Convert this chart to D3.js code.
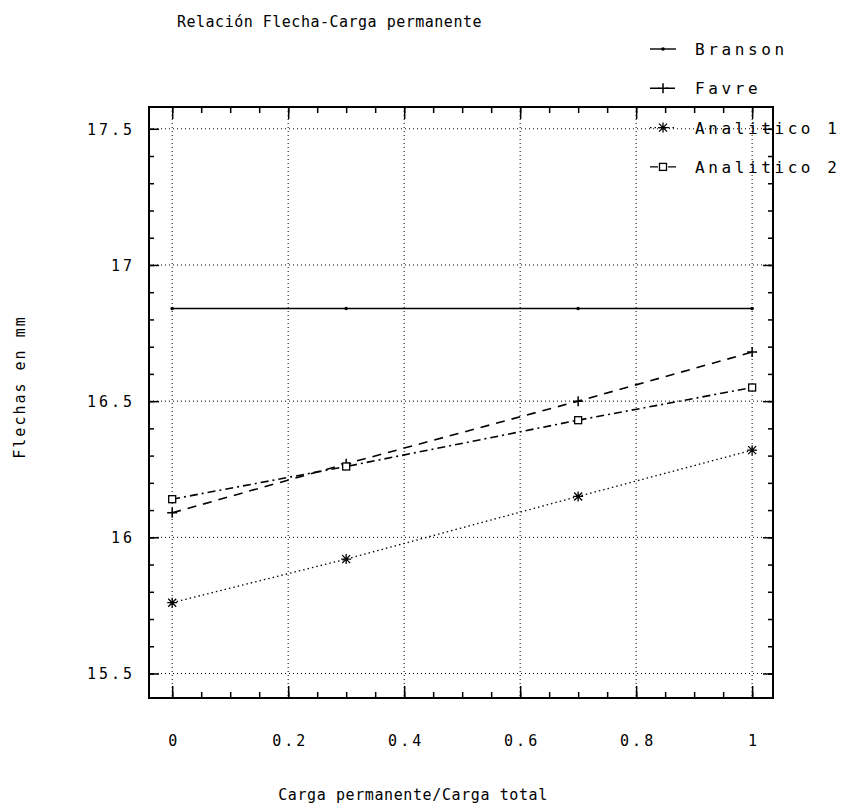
<!DOCTYPE html>
<html>
<head>
<meta charset="utf-8">
<script src="https://cdn.jsdelivr.net/npm/d3@7"></script>
<style>
  body { margin: 0; background: #fff; }
  text { font-family: "DejaVu Sans Mono", monospace; fill: #000; }
</style>
</head>
<body>
<div id="frame"></div>
<script>
// data
let cargaRatio = [0, 0.3, 0.7, 1];
let branson = [16.84, 16.84, 16.84, 16.84];
let favre = [16.09, 16.27, 16.50, 16.68];
let analitico1 = [15.76, 15.92, 16.15, 16.32];
let analitico2 = [16.14, 16.26, 16.43, 16.55];
let seriesNames = ['Branson', 'Favre', 'Analitico 1', 'Analitico 2'];
let xTicks = [0, 0.2, 0.4, 0.6, 0.8, 1];
let xTickLabels = ['0', '0.2', '0.4', '0.6', '0.8', '1'];
let yTicks = [15.5, 16, 16.5, 17, 17.5];
let yTickLabels = ['15.5', '16', '16.5', '17', '17.5'];

let W = 843, H = 808;
let plot = { left: 149, right: 773, top: 107, bottom: 698 };

let x = d3.scaleLinear().domain([-0.04, 1.036]).range([plot.left, plot.right]);
let y = d3.scaleLinear().domain([15.41, 17.58]).range([plot.bottom, plot.top]);

let svg = d3.select('#frame').append('svg')
    .attr('width', W).attr('height', H);

// grid
svg.append('g').selectAll('line').data(xTicks).enter().append('line')
    .attr('x1', d => x(d)).attr('x2', d => x(d))
    .attr('y1', plot.top).attr('y2', plot.bottom)
    .attr('stroke', '#000').attr('stroke-width', 1).attr('stroke-dasharray', '1,3');
svg.append('g').selectAll('line').data(yTicks).enter().append('line')
    .attr('y1', d => y(d)).attr('y2', d => y(d))
    .attr('x1', plot.left).attr('x2', plot.right)
    .attr('stroke', '#000').attr('stroke-width', 1).attr('stroke-dasharray', '1,3');

// minor ticks every 0.05 on x, 0.1 on y
let xMinor = d3.range(0, 1.0001, 0.05);
let yMinor = d3.range(15.5, 17.5001, 0.1);

function axisStyle(g) {
    g.selectAll('.domain').remove();
    g.selectAll('line').attr('stroke', '#000').attr('stroke-width', 1.5);
    g.selectAll('text').remove();
}

svg.append('g').attr('transform', `translate(0,${plot.bottom})`)
    .call(d3.axisBottom(x).tickValues(xMinor).tickSize(-6)).call(axisStyle);
svg.append('g').attr('transform', `translate(0,${plot.bottom})`)
    .call(d3.axisBottom(x).tickValues(xTicks).tickSize(-12)).call(axisStyle);
svg.append('g').attr('transform', `translate(0,${plot.top})`)
    .call(d3.axisTop(x).tickValues(xMinor).tickSize(-6)).call(axisStyle);
svg.append('g').attr('transform', `translate(0,${plot.top})`)
    .call(d3.axisTop(x).tickValues(xTicks).tickSize(-12)).call(axisStyle);
svg.append('g').attr('transform', `translate(${plot.left},0)`)
    .call(d3.axisLeft(y).tickValues(yMinor).tickSize(-5)).call(axisStyle);
svg.append('g').attr('transform', `translate(${plot.left},0)`)
    .call(d3.axisLeft(y).tickValues(yTicks).tickSize(-10)).call(axisStyle);
svg.append('g').attr('transform', `translate(${plot.right},0)`)
    .call(d3.axisRight(y).tickValues(yMinor).tickSize(-5)).call(axisStyle);
svg.append('g').attr('transform', `translate(${plot.right},0)`)
    .call(d3.axisRight(y).tickValues(yTicks).tickSize(-10)).call(axisStyle);

// frame
svg.append('rect')
    .attr('x', plot.left).attr('y', plot.top)
    .attr('width', plot.right - plot.left).attr('height', plot.bottom - plot.top)
    .attr('fill', 'none').attr('stroke', '#000').attr('stroke-width', 2);

// tick labels
svg.append('g').selectAll('text').data(xTicks).enter().append('text')
    .attr('x', d => x(d) + 2).attr('y', 746)
    .attr('text-anchor', 'middle')
    .style('font-size', '15px').style('letter-spacing', '3px')
    .text((d, i) => xTickLabels[i]);
svg.append('g').selectAll('text').data(yTicks).enter().append('text')
    .attr('x', 135).attr('y', d => y(d) + 6)
    .attr('text-anchor', 'end')
    .style('font-size', '15px').style('letter-spacing', '3px')
    .text((d, i) => yTickLabels[i]);

// series
let series = [
    { name: seriesNames[0], values: branson, dash: null, marker: 'dot' },
    { name: seriesNames[1], values: favre, dash: '9,7', marker: 'plus' },
    { name: seriesNames[2], values: analitico1, dash: '1.5,3', marker: 'star' },
    { name: seriesNames[3], values: analitico2, dash: '8,4,2,4', marker: 'square' }
];

let line = d3.line().x((d, i) => x(cargaRatio[i])).y(d => y(d));

function drawMarker(g, type, cx, cy) {
    if (type === 'dot') {
        g.append('circle').attr('cx', cx).attr('cy', cy).attr('r', 1.8).attr('fill', '#000');
    } else if (type === 'plus') {
        g.append('path').attr('d', `M${cx - 5},${cy}H${cx + 5}M${cx},${cy - 5}V${cy + 5}`)
            .attr('stroke', '#000').attr('stroke-width', 1.5);
    } else if (type === 'star') {
        g.append('path').attr('d', `M${cx - 5},${cy}H${cx + 5}M${cx},${cy - 5}V${cy + 5}M${cx - 4},${cy - 4}L${cx + 4},${cy + 4}M${cx - 4},${cy + 4}L${cx + 4},${cy - 4}`)
            .attr('stroke', '#000').attr('stroke-width', 1.3);
    } else {
        g.append('rect').attr('x', cx - 3.5).attr('y', cy - 3.5).attr('width', 7).attr('height', 7)
            .attr('fill', '#fff').attr('stroke', '#000').attr('stroke-width', 1.3);
    }
}

series.forEach(s => {
    svg.append('path').datum(s.values)
        .attr('d', line)
        .attr('fill', 'none').attr('stroke', '#000')
        .attr('stroke-width', s.dash === '1.5,3' ? 1.3 : 1.6)
        .attr('stroke-dasharray', s.dash);
    let g = svg.append('g');
    s.values.forEach((v, i) => drawMarker(g, s.marker, x(cargaRatio[i]), y(v)));
});

// legend
let legend = svg.append('g');
series.forEach((s, i) => {
    let ly = 49 + i * 39.3;
    legend.append('line')
        .attr('x1', 650).attr('x2', 676).attr('y1', ly).attr('y2', ly)
        .attr('stroke', '#000').attr('stroke-width', 1.4)
        .attr('stroke-dasharray', s.dash);
    drawMarker(legend, s.marker, 663, ly);
    legend.append('text')
        .attr('x', 695).attr('y', ly + 6)
        .style('font-size', '16px').style('letter-spacing', '3.6px')
        .text(s.name);
});

// titles
svg.append('text')
    .attr('x', 177).attr('y', 27)
    .style('font-size', '15px').style('letter-spacing', '0.5px')
    .text('Relación Flecha-Carga permanente');
svg.append('text')
    .attr('x', 413).attr('y', 800)
    .attr('text-anchor', 'middle')
    .style('font-size', '15px').style('letter-spacing', '0.6px')
    .text('Carga permanente/Carga total');
svg.append('text')
    .attr('transform', 'translate(25,387) rotate(-90)')
    .attr('text-anchor', 'middle')
    .style('font-size', '15px').style('letter-spacing', '2px')
    .text('Flechas en mm');
</script>
</body>
</html>
